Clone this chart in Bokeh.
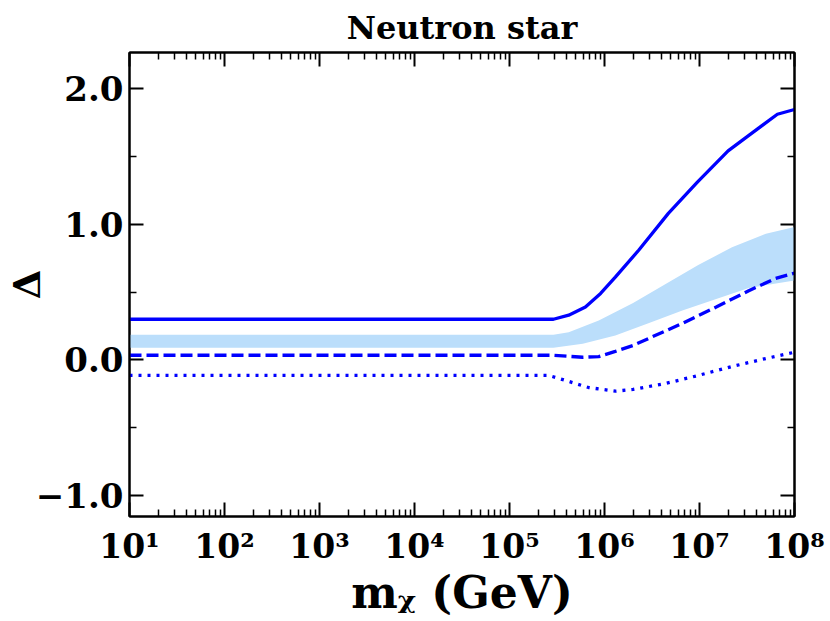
from bokeh.plotting import figure
from bokeh.models import Range1d, FixedTicker, LogAxis, LinearAxis
from bokeh.embed import file_html
from bokeh.resources import INLINE

# curves (m_chi in GeV, Delta)
solid_m = [1e1, 2.9e5, 4.2e5, 6.3e5, 9.1e5, 1.3e6, 2.3e6, 4.7e6, 9.5e6, 2.0e7, 3.1e7, 6.6e7, 1e8]
solid_d = [0.30, 0.30, 0.33, 0.39, 0.49, 0.61, 0.81, 1.08, 1.31, 1.54, 1.64, 1.81, 1.845]

dashed_m = [1e1, 2.9e5, 5.9e5, 8.7e5, 1.3e6, 2.0e6, 2.9e6, 6.6e6, 1.5e7, 3.3e7, 6.3e7, 1e8]
dashed_d = [0.035, 0.035, 0.02, 0.025, 0.063, 0.107, 0.158, 0.27, 0.39, 0.51, 0.60, 0.64]

dotted_m = [1e1, 2.6e5, 3.9e5, 6.8e5, 1.3e6, 2.0e6, 4.4e6, 9.7e6, 2.2e7, 5.0e7, 1e8]
dotted_d = [-0.114, -0.114, -0.151, -0.203, -0.23, -0.217, -0.173, -0.114, -0.048, 0.011, 0.057]

band_hi_m = [1e1, 2.9e5, 4.2e5, 8.7e5, 2.0e6, 4.4e6, 9.7e6, 2.2e7, 5.0e7, 1e8]
band_hi_d = [0.185, 0.185, 0.205, 0.29, 0.42, 0.56, 0.70, 0.83, 0.93, 0.98]
band_lo_m = [1e1, 2.9e5, 5.9e5, 1.3e6, 2.9e6, 6.6e6, 1.5e7, 3.3e7, 1e8]
band_lo_d = [0.09, 0.09, 0.12, 0.18, 0.27, 0.365, 0.45, 0.53, 0.585]

x_ticks = [10 ** k for k in range(1, 9)]
x_tick_labels = ["10¹", "10²", "10³", "10⁴", "10⁵", "10⁶", "10⁷", "10⁸"]
x_minor = [m * 10 ** k for k in range(1, 8) for m in range(2, 10)]
y_ticks = [-1, 0, 1, 2]
y_tick_labels = ["−1.0", "0.0", "1.0", "2.0"]
y_minor = [-0.5, 0.5, 1.5]

FONT = "DejaVu Serif"

p = figure(width=830, height=621, x_axis_type="log",
           x_range=Range1d(10, 1e8), y_range=Range1d(-1.153, 2.265),
           output_backend="svg", toolbar_location=None,
           min_border_left=128, min_border_right=36,
           min_border_top=52, min_border_bottom=105)
p.grid.visible = False
p.outline_line_color = "black"
p.outline_line_width = 2

p.title.text = "Neutron star"
p.title.align = "center"
p.title.text_font = FONT
p.title.text_font_style = "bold"
p.title.text_font_size = "32px"
p.title.text_color = "black"
p.title.standoff = 12

BLUE = "#0000ff"
band_x = band_hi_m + band_lo_m[::-1]
band_y = band_hi_d + band_lo_d[::-1]
p.patch(band_x, band_y, fill_color="#bbdefb", line_color=None)
p.line(solid_m, solid_d, line_color=BLUE, line_width=3.3)
p.line(dashed_m, dashed_d, line_color=BLUE, line_width=3.3, line_dash="12 5")
p.line(dotted_m, dotted_d, line_color=BLUE, line_width=3.3, line_dash="3 6")

xt = FixedTicker(ticks=x_ticks, minor_ticks=x_minor)
yt = FixedTicker(ticks=y_ticks, minor_ticks=y_minor)


def style(ax, label_size):
    ax.axis_line_width = 2
    ax.major_tick_in = 14
    ax.major_tick_out = 0
    ax.minor_tick_in = 7
    ax.minor_tick_out = 0
    ax.major_tick_line_width = 2
    ax.minor_tick_line_width = 1.5
    ax.major_label_text_font = FONT
    ax.major_label_text_font_style = "bold"
    ax.major_label_text_font_size = label_size
    ax.major_label_text_color = "black"
    ax.axis_label_text_font = FONT
    ax.axis_label_text_font_style = "bold"
    ax.axis_label_text_color = "black"


p.xaxis.ticker = xt
p.yaxis.ticker = yt
p.xaxis.major_label_overrides = dict(zip(x_ticks, x_tick_labels))
p.yaxis.major_label_overrides = dict(zip(y_ticks, y_tick_labels))
style(p.xaxis[0], "33px")
style(p.yaxis[0], "34px")
p.xaxis.major_label_standoff = 10
p.yaxis.major_label_standoff = 6

p.xaxis.axis_label = "mᵪ (GeV)"
p.xaxis.axis_label_text_font_size = "44px"
p.xaxis.axis_label_standoff = -2
p.yaxis.axis_label = "Δ"
p.yaxis.axis_label_text_font_size = "38px"
p.yaxis.axis_label_standoff = -16

top_ax = LogAxis(ticker=xt)
right_ax = LinearAxis(ticker=yt)
for ax in (top_ax, right_ax):
    style(ax, "1px")
    ax.major_label_standoff = 0
    ax.major_label_text_color = None
p.add_layout(top_ax, "above")
p.add_layout(right_ax, "right")

open("out.html", "w").write(file_html(p, INLINE))
